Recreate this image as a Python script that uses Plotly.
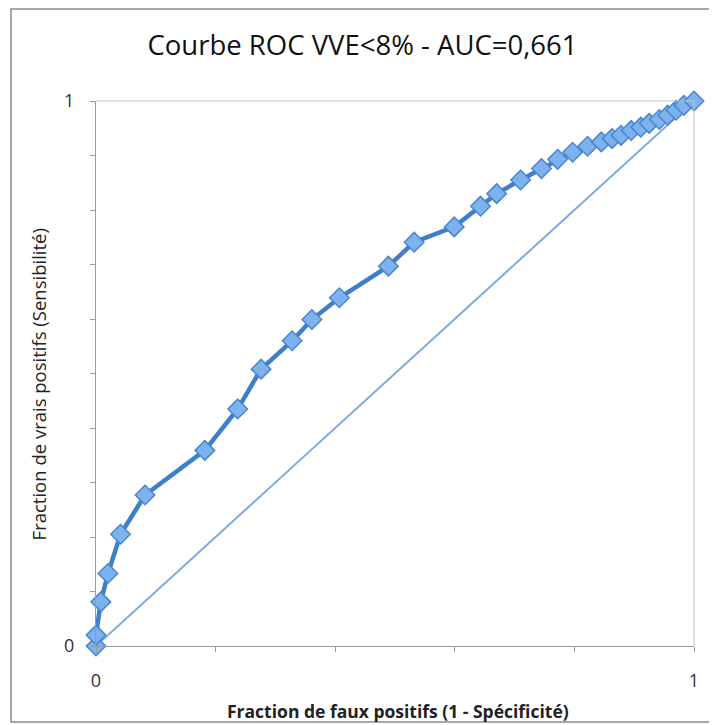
import plotly.graph_objects as go

# Data
fpr = [0.0, 0.0, 0.008, 0.020, 0.041, 0.082, 0.182, 0.237, 0.276, 0.328, 0.361,
       0.407, 0.489, 0.532, 0.599, 0.643, 0.670, 0.710, 0.745, 0.772, 0.797,
       0.822, 0.845, 0.863, 0.878, 0.895, 0.911, 0.925, 0.942, 0.956, 0.970,
       0.983, 1.0]
tpr = [0.0, 0.020, 0.081, 0.133, 0.205, 0.277, 0.359, 0.435, 0.508, 0.560, 0.599,
       0.639, 0.697, 0.741, 0.769, 0.807, 0.830, 0.855, 0.876, 0.893, 0.906,
       0.917, 0.925, 0.931, 0.937, 0.946, 0.952, 0.959, 0.966, 0.974, 0.983,
       0.992, 1.0]
diag_x = [0, 1]
diag_y = [0, 1]

title_text = "Courbe ROC VVE<8% - AUC=0,661"
x_title = "<b>Fraction de faux positifs (1 - Spécificité)</b>"
y_title = "Fraction de vrais positifs (Sensibilité)"
tick_vals = [0, 1]
tick_text = ["0", "1"]

fig = go.Figure()
fig.add_trace(go.Scatter(
    x=diag_x, y=diag_y, mode="lines",
    line=dict(color="#7fa9d9", width=2),
    showlegend=False, hoverinfo="skip"))
fig.add_trace(go.Scatter(
    x=fpr, y=tpr, mode="lines+markers",
    line=dict(color="#3f7fc8", width=4.5),
    marker=dict(symbol="diamond", size=15, color="#7db2ee",
                line=dict(color="#4a86cc", width=1.5)),
    showlegend=False, cliponaxis=False))

fnt = "Open Sans, Noto Sans, sans-serif"
W, H = 709, 717
L, R, T, B = 88, 23, 93, 79
pw, ph = W - L - R, H - T - B

fig.update_layout(
    width=W, height=H,
    margin=dict(l=L, r=R, t=T, b=B, autoexpand=False),
    paper_bgcolor="white", plot_bgcolor="white",
    font=dict(family=fnt, color="#333", size=18),
    title=dict(text=title_text, x=0.5, xanchor="center", y=1 - 37 / H, yanchor="middle",
               font=dict(family=fnt, size=27.5, color="#111")),
    xaxis=dict(range=[0, 1], tickvals=tick_vals, ticktext=tick_text,
               showgrid=False, zeroline=False, showline=True, linecolor="#9a9a9a",
               linewidth=1, ticks="outside", ticklen=5, tickcolor="#9a9a9a",
               minor=dict(dtick=0.2, ticks="outside", ticklen=5, tickcolor="#9a9a9a"),
               tickfont=dict(size=18, color="#333"), ticklabelstandoff=13, fixedrange=True),
    yaxis=dict(range=[0, 1], tickvals=tick_vals, ticktext=tick_text,
               showgrid=False, zeroline=False, showline=True, linecolor="#9a9a9a",
               linewidth=1, ticks="outside", ticklen=5, tickcolor="#9a9a9a",
               minor=dict(dtick=0.1, ticks="outside", ticklen=5, tickcolor="#9a9a9a"),
               tickfont=dict(size=18, color="#333"), ticklabelstandoff=12, fixedrange=True),
    annotations=[
        dict(text=x_title, xref="paper", yref="paper", x=(390 - L) / pw,
             y=-(703 - (T + ph)) / ph, xanchor="center", yanchor="middle",
             showarrow=False, font=dict(size=17.5, color="#222")),
        dict(text=y_title, xref="paper", yref="paper", x=-(L - 30) / pw,
             y=0.48, xanchor="center", yanchor="middle", textangle=-90,
             showarrow=False, font=dict(size=18.5, color="#222")),
    ],
    shapes=[
        # plot area top and right border
        dict(type="line", xref="x domain", yref="y domain", x0=0, x1=1, y0=1, y1=1,
             line=dict(color="#c4c4c4", width=1)),
        dict(type="line", xref="x domain", yref="y domain", x0=1, x1=1, y0=0, y1=1,
             line=dict(color="#c4c4c4", width=1)),
        # chart area border
        dict(type="rect", xref="paper", yref="paper",
             x0=(3 - L) / pw, x1=(730 - L) / pw, y0=-(714 - (T + ph)) / ph,
             y1=1 + (T - 1) / ph,
             line=dict(color="#8a8a8a", width=1.5), layer="below"),
    ],
)

fig.write_html("out.html")
